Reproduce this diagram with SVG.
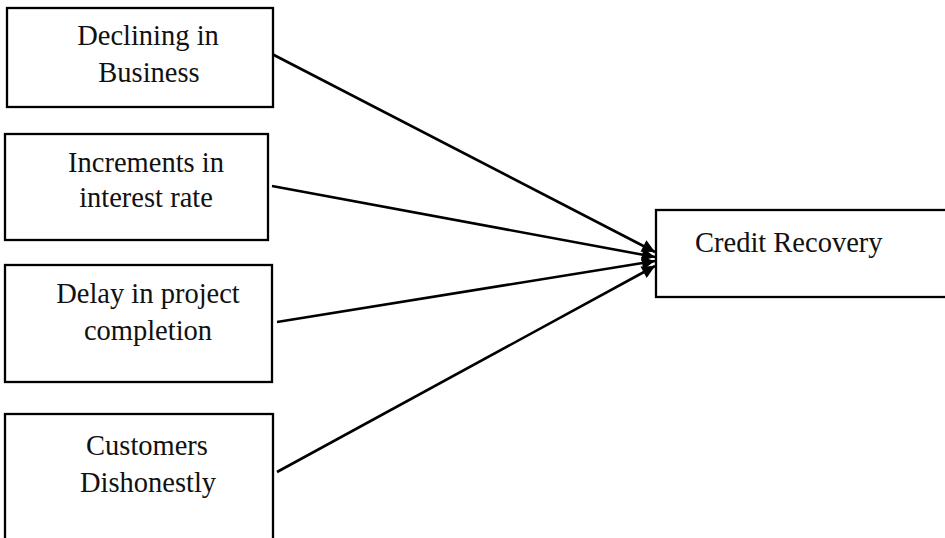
<svg xmlns="http://www.w3.org/2000/svg" width="945" height="538" viewBox="0 0 945 538">
<style>
.box{fill:#fff;stroke:#000;stroke-width:2.3}
.t{font-family:"Liberation Serif",serif;font-size:28.5px;fill:#111;text-anchor:middle}
.c{stroke:#000;stroke-width:2.6;fill:none;marker-end:url(#ah)}
</style>
<defs>
<marker id="ah" viewBox="0 0 10 10" refX="10" refY="5" markerWidth="6.5" markerHeight="5" orient="auto" markerUnits="strokeWidth">
<path d="M0,0 L10,5 L0,10 z" fill="#000"/>
</marker>
</defs>
<rect width="945" height="538" fill="#fff"/>
<g id="connectors">
<line class="c" x1="272" y1="54" x2="655" y2="252"/>
<line class="c" x1="272" y1="186" x2="655" y2="257"/>
<line class="c" x1="277" y1="322" x2="655" y2="261"/>
<line class="c" x1="277" y1="472" x2="655" y2="266"/>
</g>
<g id="n1">
<rect class="box" x="7" y="8" width="266" height="99"/>
<text class="t" x="148" y="45">Declining in</text>
<text class="t" x="149" y="82">Business</text>
</g>
<g id="n2">
<rect class="box" x="5" y="134" width="263" height="106"/>
<text class="t" x="146" y="172">Increments in</text>
<text class="t" x="146" y="207">interest rate</text>
</g>
<g id="n3">
<rect class="box" x="5" y="265" width="267" height="117"/>
<text class="t" x="148" y="303">Delay in project</text>
<text class="t" x="148" y="340">completion</text>
</g>
<g id="n4">
<rect class="box" x="5" y="414" width="268" height="130"/>
<text class="t" x="147" y="455">Customers</text>
<text class="t" x="148" y="492">Dishonestly</text>
</g>
<g id="n5">
<rect class="box" x="656" y="210" width="295" height="87"/>
<text class="t" x="695" y="252" style="text-anchor:start">Credit Recovery</text>
</g>
</svg>
